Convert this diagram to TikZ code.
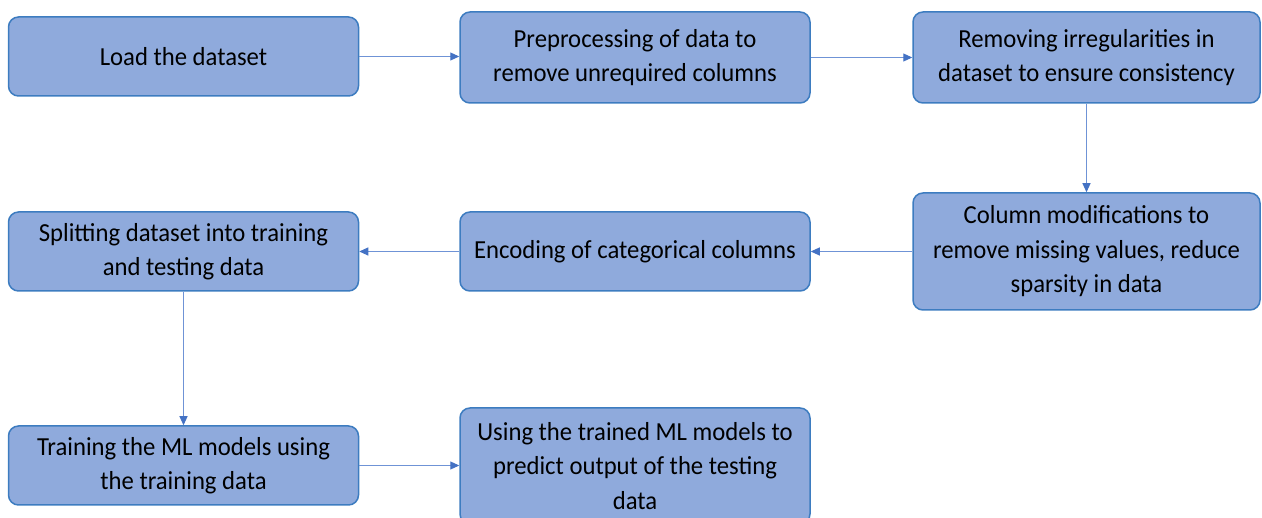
\documentclass[tikz,border=0pt]{standalone}
\usepackage{fontspec}
\setmainfont{Carlito}[FakeStretch=0.95]
\usetikzlibrary{arrows.meta}
\definecolor{boxfill}{HTML}{8FAADC}
\definecolor{boxline}{HTML}{3D7CC0}
\definecolor{arrline}{HTML}{6F93D6}
\definecolor{arrtip}{HTML}{4472C4}
\tikzset{
  flowbox/.style={draw=boxline, line width=1.5pt, fill=boxfill, rounded corners=10pt,
    minimum width=350pt, minimum height=79pt, align=center, inner sep=0pt,
    font=\fontsize{26}{34.5}\selectfont, text=black},
  flowarrow/.style={draw=arrline, line width=1pt, -{Triangle[length=9pt,width=8pt,color=arrtip]}, shorten >=0pt}
}
\begin{document}
\begin{tikzpicture}[x=1pt,y=-1pt]
\useasboundingbox (0,0) rectangle (1262,518);
\begin{scope}
\clip (0,0) rectangle (1262,518);
\node[flowbox] (load) at (183.5,56.5) {Load the dataset};
\node[flowbox, minimum height=91pt] (prep) at (635,57.5) {Preprocessing of data to\\remove unrequired columns};
\node[flowbox, minimum height=91pt, minimum width=347pt] (irr) at (1086.5,57.5) {Removing irregularities in\\dataset to ensure consistency};
\node[flowbox, minimum height=117pt, minimum width=347pt] (col) at (1086.5,251.5) {Column modifications to\\remove missing values, reduce\\sparsity in data};
\node[flowbox] (enc) at (635,251.5) {Encoding of categorical columns};
\node[flowbox] (split) at (183.5,251.5) {Splitting dataset into training\\and testing data};
\node[flowbox] (train) at (183.5,465.5) {Training the ML models using\\the training data};
\node[flowbox, minimum height=116pt] (use) at (635,466) {Using the trained ML models to\\predict output of the testing\\data};
\end{scope}
\draw[flowarrow] (load.east) -- (prep.west |- load.east);
\draw[flowarrow] (prep.east) -- (irr.west);
\draw[flowarrow] (irr.south) -- (col.north);
\draw[flowarrow] (col.west) -- (enc.east);
\draw[flowarrow] (enc.west) -- (split.east);
\draw[flowarrow] (split.south) -- (train.north);
\draw[flowarrow] (train.east) -- (use.west |- train.east);
\end{tikzpicture}
\end{document}
